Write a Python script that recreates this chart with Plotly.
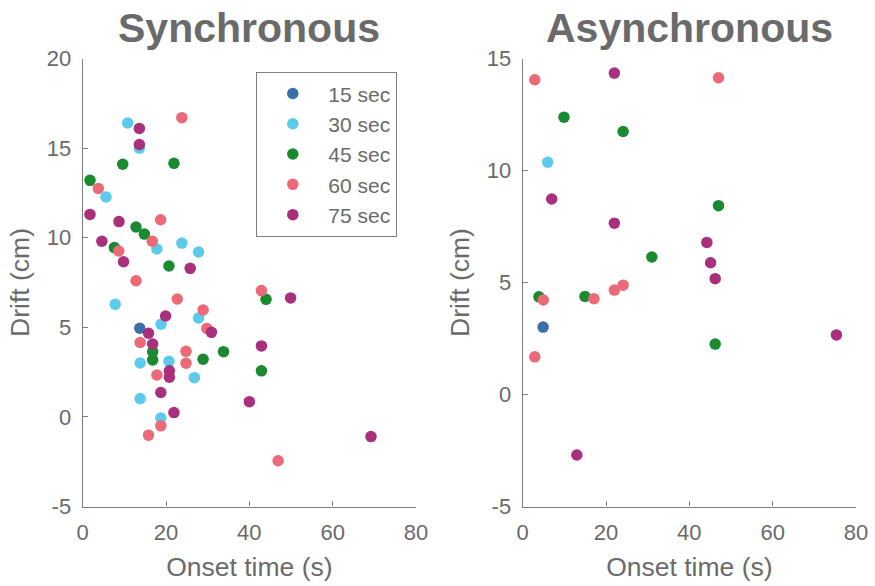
import plotly.graph_objects as go

groups = ["15 sec", "30 sec", "45 sec", "60 sec", "75 sec"]
colors = ["#3b6fa9", "#5ccbeb", "#1a8a30", "#ec6a78", "#a8307c"]

# Synchronous panel
sync_x = {
    "15 sec": [13.7],
    "30 sec": [10.8, 13.6, 5.6, 23.8, 17.8, 27.8, 7.8, 18.8, 27.8, 13.8, 20.7, 26.8, 13.8, 18.75],
    "45 sec": [9.6, 21.9, 1.75, 12.8, 14.8, 7.6, 20.7, 44.0, 16.8, 16.8, 28.9, 33.8, 42.9],
    "60 sec": [23.8, 3.75, 18.7, 16.7, 8.65, 12.8, 22.7, 42.9, 28.9, 29.8, 13.8, 24.8, 24.8, 17.8, 18.75, 15.8, 46.9],
    "75 sec": [13.6, 13.6, 1.75, 8.7, 4.6, 9.8, 25.8, 49.9, 19.9, 30.9, 15.8, 16.8, 42.9, 20.8, 20.8, 18.75, 40.0, 21.9, 69.2],
}
sync_y = {
    "15 sec": [4.95],
    "30 sec": [16.4, 15.0, 12.27, 9.7, 9.37, 9.2, 6.28, 5.17, 5.52, 3.01, 3.1, 2.19, 1.02, -0.06],
    "45 sec": [14.1, 14.15, 13.2, 10.6, 10.2, 9.45, 8.42, 6.56, 3.64, 3.18, 3.22, 3.64, 2.57],
    "60 sec": [16.7, 12.75, 11.0, 9.8, 9.26, 7.6, 6.58, 7.05, 5.97, 4.94, 4.15, 3.66, 3.0, 2.34, -0.5, -1.02, -2.45],
    "75 sec": [16.1, 15.2, 11.3, 10.9, 9.8, 8.66, 8.29, 6.64, 5.63, 4.72, 4.67, 4.07, 3.96, 2.57, 2.21, 1.36, 0.85, 0.24, -1.1],
}

# Asynchronous panel
async_x = {
    "15 sec": [4.9],
    "30 sec": [6.0],
    "45 sec": [9.9, 24.1, 47.0, 31.0, 3.9, 14.95, 46.2],
    "60 sec": [2.9, 47.0, 24.1, 22.0, 4.95, 17.1, 2.9],
    "75 sec": [22.0, 6.96, 22.0, 44.2, 45.1, 46.2, 75.3, 13.0],
}
async_y = {
    "15 sec": [3.01],
    "30 sec": [10.37],
    "45 sec": [12.38, 11.74, 8.43, 6.14, 4.36, 4.38, 2.25],
    "60 sec": [14.05, 14.14, 4.88, 4.66, 4.22, 4.28, 1.68],
    "75 sec": [14.35, 8.73, 7.65, 6.79, 5.88, 5.17, 2.66, -2.7],
}

titles = ["Synchronous", "Asynchronous"]
x_ticks = [0, 20, 40, 60, 80]
x_tick_labels = ["0", "20", "40", "60", "80"]
sync_y_ticks = [-5, 0, 5, 10, 15, 20]
sync_y_tick_labels = ["-5", "0", "5", "10", "15", "20"]
async_y_ticks = [-5, 0, 5, 10, 15]
async_y_tick_labels = ["-5", "0", "5", "10", "15"]

FONT = "Liberation Sans, Arial, sans-serif"
TXT = "#6a6a6a"
LINE = "#7c7c7c"

W, H = 875, 586

fig = go.Figure()
for g, c in zip(groups, colors):
    fig.add_trace(go.Scatter(x=sync_x[g], y=sync_y[g], mode="markers", name=g,
                             marker=dict(color=c, size=11.5), xaxis="x", yaxis="y"))
for g, c in zip(groups, colors):
    fig.add_trace(go.Scatter(x=async_x[g], y=async_y[g], mode="markers", name=g,
                             marker=dict(color=c, size=11.5), xaxis="x2", yaxis="y2",
                             showlegend=False))

def px_x(v):
    return v / W

def px_y(v):
    return 1 - v / H

def ax(**kw):
    d = dict(showgrid=False, zeroline=False, showline=True, linecolor=LINE, linewidth=1.3,
             ticks="inside", ticklen=5, tickcolor=LINE, tickwidth=1.3, automargin=False,
             tickfont=dict(family=FONT, size=22, color=TXT), mirror=False)
    d.update(kw)
    return d

xtitle = dict(text="Onset time (s)", font=dict(family=FONT, size=26.5, color=TXT), standoff=13)
ytitle = dict(text="Drift (cm)", font=dict(family=FONT, size=26.5, color=TXT), standoff=9)

fig.update_layout(
    width=W, height=H,
    margin=dict(l=0, r=0, t=0, b=0, autoexpand=False),
    paper_bgcolor="white", plot_bgcolor="white",
    font=dict(family=FONT, color=TXT),
    xaxis=ax(domain=[px_x(82.7), px_x(416)], range=[0, 80], tickvals=x_ticks, ticktext=x_tick_labels,
             anchor="y", ticklabelstandoff=6, title=xtitle),
    yaxis=ax(domain=[px_y(506.5), px_y(58.5)], range=[-5, 20], tickvals=sync_y_ticks,
             ticktext=sync_y_tick_labels, anchor="x", ticklabelstandoff=6, title=ytitle),
    xaxis2=ax(domain=[px_x(522.7), px_x(856)], range=[0, 80], tickvals=x_ticks, ticktext=x_tick_labels,
              anchor="y2", ticklabelstandoff=6, title=xtitle),
    yaxis2=ax(domain=[px_y(506.5), px_y(58.5)], range=[-5, 15], tickvals=async_y_ticks,
              ticktext=async_y_tick_labels, anchor="x2", ticklabelstandoff=6, title=ytitle),
    legend=dict(x=px_x(256), y=px_y(72), xanchor="left", yanchor="top",
                bordercolor="#808080", borderwidth=1.3, bgcolor="white",
                font=dict(family=FONT, size=21, color=TXT), itemwidth=61),
    showlegend=True,
)

for i, t in enumerate(titles):
    xc = [px_x((82.7 + 416) / 2), px_x((522.7 + 856) / 2)][i]
    fig.add_annotation(text="<b>%s</b>" % t, x=xc, y=px_y(28), xref="paper", yref="paper",
                       showarrow=False, xanchor="center", yanchor="middle",
                       font=dict(family=FONT, size=41, color="#6a6a6a"))

# remove the page's default 8px body margin so the figure sits at the window's corner
fig.write_html("out.html", config={"displayModeBar": False},
               post_script="document.body.style.margin='0';")
